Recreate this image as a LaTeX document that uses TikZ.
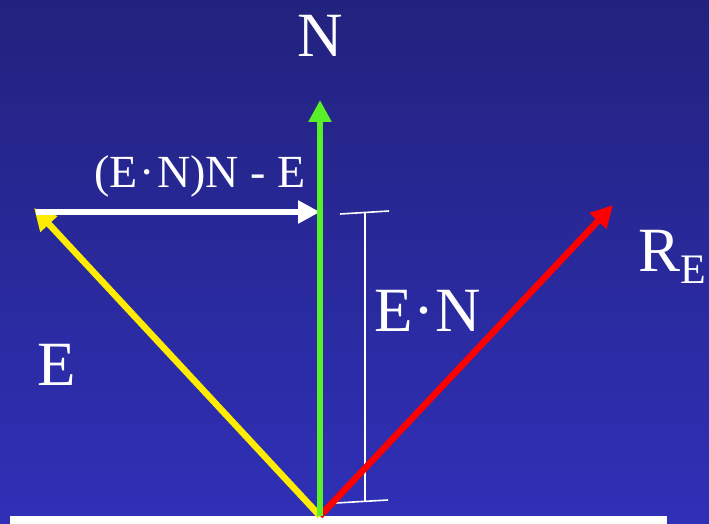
\documentclass[tikz,border=0pt]{standalone}
\usepackage{fontspec}
\setmainfont{Liberation Serif}
\usetikzlibrary{arrows.meta}
\definecolor{bgtop}{RGB}{34,34,126}
\definecolor{bgbot}{RGB}{48,48,184}
\definecolor{vgreen}{RGB}{90,240,40}
\definecolor{vyellow}{RGB}{255,236,0}
\definecolor{vred}{RGB}{255,0,0}
\tikzset{
  vec/.style={line width=6.5pt,-{Triangle[length=22pt,width=22pt]}},
  lbl/.style={text=white,inner sep=0pt,font=\fontsize{63}{65}\selectfont},
  tick/.style={white,line width=1.6pt}
}
\begin{document}
\begin{tikzpicture}[x=1pt,y=-1pt]
\useasboundingbox (0,0) rectangle (709,524);
\shade[top color=bgtop,bottom color=bgbot] (0,0) rectangle (709,524);
\fill[white] (10,516) rectangle (667,524);
\coordinate (O) at (320,516);
\coordinate (Ntip) at (320,100);
\coordinate (Etip) at (34,208);
\coordinate (Wstart) at (36,212);
\coordinate (Wtip) at (320,212);
\coordinate (Rtip) at (613,205);
% bracket
\coordinate (bt1) at (340,214);
\coordinate (bt2) at (389,211);
\coordinate (bb1) at (336,503);
\coordinate (bb2) at (388,500);
\coordinate (bv1) at (365,213);
\coordinate (bv2) at (365,502);
\draw[tick] (bt1) -- (bt2);
\draw[tick] (bb1) -- (bb2);
\draw[tick] (bv1) -- (bv2);
\draw[vec,vyellow] (O) -- (Etip);
\draw[vec,vred] (O) -- (Rtip);
\draw[vec,white] (Wstart) -- (Wtip);
\draw[vec,vgreen] (O) -- (Ntip);
\node[lbl] (N) at (320,36) {N};
\node[lbl,font=\fontsize{46}{48}\selectfont] (ENNE) at (200,176) {(E\hspace{2pt}·\hspace{2pt}N)N - E};
\node[lbl] (EN) at (428,311) {E\hspace{1pt}·\hspace{1pt}N};
\node[lbl] (E) at (57,365) {E};
\node[lbl,anchor=west] (RE) at (638,257) {R\raisebox{-12pt}{\fontsize{42}{42}\selectfont E}};
\end{tikzpicture}
\end{document}
